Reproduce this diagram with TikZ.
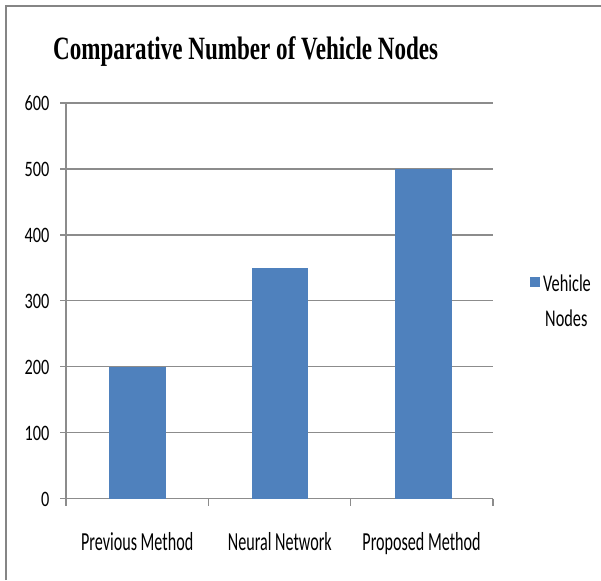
\documentclass[tikz,border=0pt]{standalone}
\usepackage{fontspec}
\newfontfamily\titlefont{Liberation Serif}
\newfontfamily\labelfont{Carlito}
\definecolor{barblue}{HTML}{4F81BD}
\definecolor{gridgray}{HTML}{8C8C8C}
\definecolor{framegray}{HTML}{858585}
\begin{document}
\begin{tikzpicture}[x=1pt,y=-1pt,
  gridline/.style={gridgray,line width=1.3pt},
  bar/.style={fill=barblue,draw=none},
  ylab/.style={anchor=base east,inner sep=0pt,font=\labelfont\fontsize{22}{22}\selectfont},
  catlab/.style={anchor=base,inner sep=0pt,font=\labelfont\fontsize{26}{26}\selectfont},
  leglab/.style={anchor=base west,inner sep=0pt,font=\labelfont\fontsize{24}{24}\selectfont}]
\useasboundingbox (0,0) rectangle (601,580);
\fill[white] (0,0) rectangle (601,580);
% outer chart frame (top and left edges)
\draw[framegray,line width=2pt] (6,580) -- (6,5.8) -- (601,5.8);
% title
\node[anchor=base west,inner sep=0pt] (title) at (53,60)
  {\scalebox{0.71}[1]{\titlefont\bfseries\fontsize{32.5}{32.5}\selectfont Comparative Number of Vehicle Nodes}};
% horizontal gridlines with tick labels
\foreach \v [count=\i] in {0,100,...,600}{
  \pgfmathsetmacro{\yy}{498.5-0.659*\v}
  \coordinate (gl\i) at (60,\yy);
  \coordinate (gr\i) at (493,\yy);
  \draw[gridline] (gl\i) -- (gr\i);
  \node[ylab] (yl\i) at (49.5,\yy+7.5) {\scalebox{0.74}[1]{\v}};
}
% axes
\coordinate (o) at (66,498.5);
\coordinate (ytop) at (66,103);
\coordinate (xend) at (493,498.5);
\draw[gridline] (ytop) -- (o) -- (xend);
\foreach \x [count=\i] in {66,208.3,350.7,493}{
  \coordinate (ta\i) at (\x,498.5);
  \coordinate (tb\i) at (\x,506);
  \draw[gridline] (ta\i) -- (tb\i);
}
% bars
\draw[bar] (108.7,498.5) rectangle (165.5,366.7);
\draw[bar] (251.5,498.5) rectangle (308.3,267.8);
\draw[bar] (394.5,498.5) rectangle (451.5,169);
% category labels
\node[catlab] (c1) at (137.2,550) {\scalebox{0.62}[1]{Previous Method}};
\node[catlab] (c2) at (279.8,550) {\scalebox{0.62}[1]{Neural Network}};
\node[catlab] (c3) at (421.5,550) {\scalebox{0.62}[1]{Proposed Method}};
% legend
\node[fill=barblue,minimum size=10pt,inner sep=0pt] (key) at (535,282) {};
\node[leglab] (l1) at (543,291.5) {\scalebox{0.68}[1]{Vehicle}};
\node[leglab] (l2) at (545,326) {\scalebox{0.68}[1]{Nodes}};
\end{tikzpicture}
\end{document}
